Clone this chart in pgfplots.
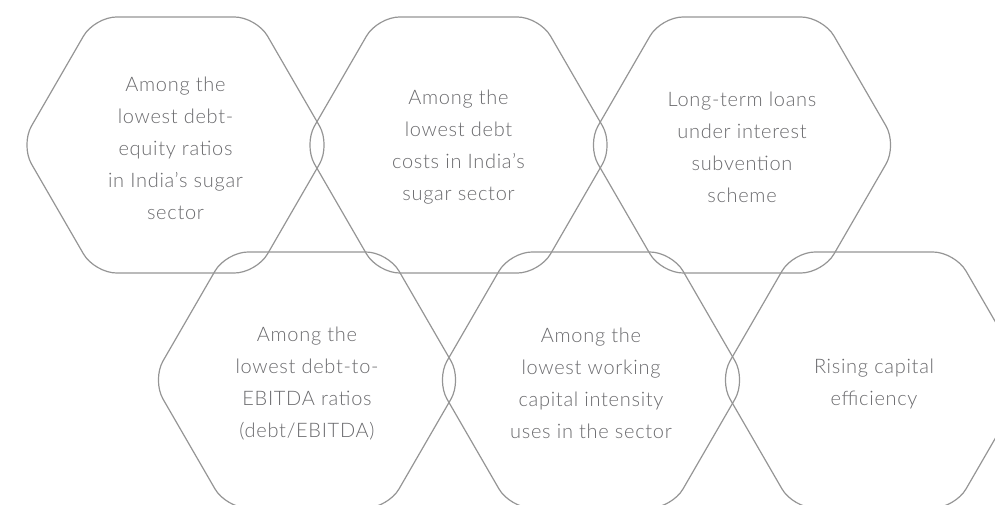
\documentclass[border=0pt]{standalone}
\usepackage{fontspec}
\IfFontExistsTF{Lato Light}{\setmainfont{Lato Light}[LetterSpace=3.5]}{\setmainfont{Lato}[LetterSpace=3.5]}
\usepackage{pgfplots}
\pgfplotsset{compat=1.18}
\definecolor{hexline}{HTML}{959595}
\definecolor{hextext}{HTML}{6A6A6D}
\tikzset{hexlabel/.style={align=center,text=hextext,inner sep=0pt,font=\fontsize{20}{32}\selectfont}}
\begin{document}
\begin{tikzpicture}
\begin{axis}[width=995pt,height=505pt,scale only axis,
  xmin=0,xmax=995,ymin=0,ymax=505,y dir=reverse,hide axis,clip=true]
\addplot[hexline,line width=1.2pt,rounded corners=22pt] coordinates {(175.5,17) (256.5,17) (330.5,145) (256.5,273) (94.5,273) (20.5,145) (94.5,17) (175.5,17)};
\addplot[hexline,line width=1.2pt,rounded corners=22pt] coordinates {(458.5,17) (539.5,17) (613.5,145) (539.5,273) (377.5,273) (303.5,145) (377.5,17) (458.5,17)};
\addplot[hexline,line width=1.2pt,rounded corners=22pt] coordinates {(742,17) (823,17) (897,145) (823,273) (661,273) (587,145) (661,17) (742,17)};
\addplot[hexline,line width=1.2pt,rounded corners=22pt] coordinates {(307,252) (388,252) (462,380) (388,508) (226,508) (152,380) (226,252) (307,252)};
\addplot[hexline,line width=1.2pt,rounded corners=22pt] coordinates {(591,252) (672,252) (746,380) (672,508) (510,508) (436,380) (510,252) (591,252)};
\addplot[hexline,line width=1.2pt,rounded corners=22pt] coordinates {(874,252) (955,252) (1029,380) (955,508) (793,508) (719,380) (793,252) (874,252)};
\node[hexlabel] at (axis cs:175.5,148) {Among the\\lowest debt-\\equity ratios\\in India’s sugar\\sector};
\node[hexlabel] at (axis cs:458.5,147) {Among the\\lowest debt\\costs in India’s\\sugar sector};
\node[hexlabel] at (axis cs:742,147) {Long-term loans\\under interest\\subvention\\scheme};
\node[hexlabel] at (axis cs:307,383.5) {Among the\\lowest debt-to-\\EBITDA ratios\\(debt/EBITDA)};
\node[hexlabel] at (axis cs:591,383.5) {Among the\\lowest working\\capital intensity\\uses in the sector};
\node[hexlabel] at (axis cs:874,383.5) {Rising capital\\efficiency};
\end{axis}
\pgfresetboundingbox
\path[use as bounding box] (current axis.south west) rectangle (current axis.north east);
\end{tikzpicture}
\end{document}
